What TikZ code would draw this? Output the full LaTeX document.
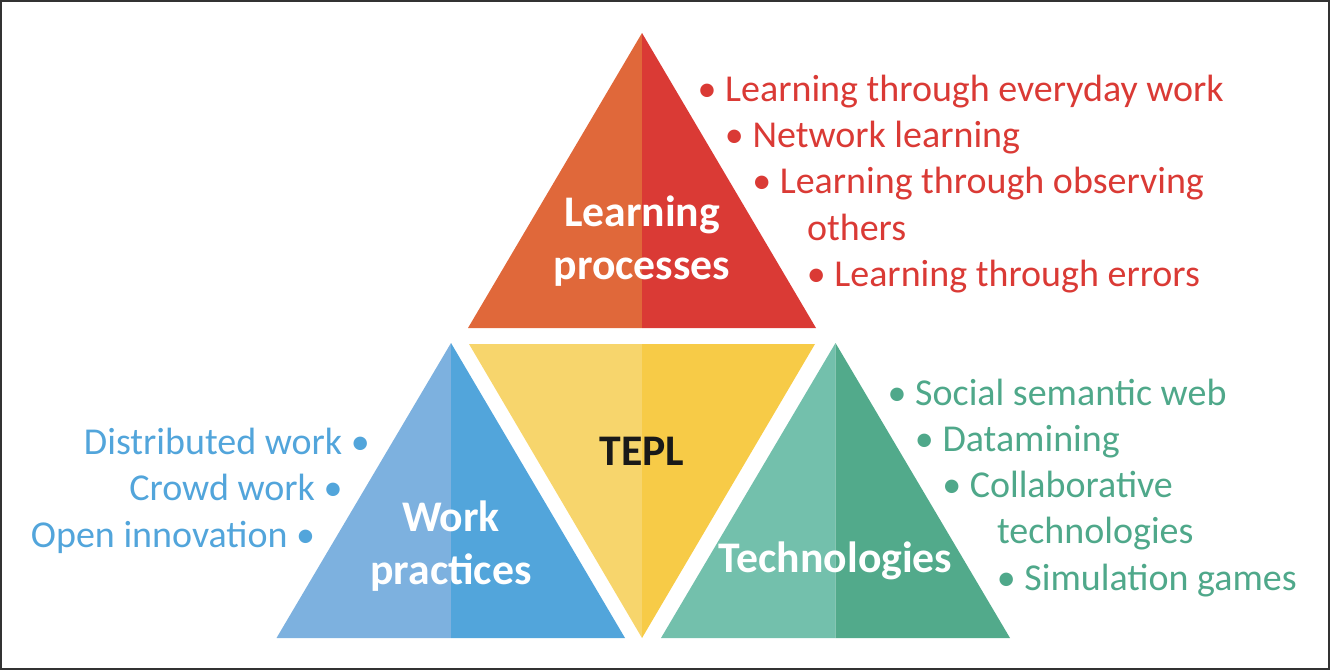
\documentclass[tikz,border=0pt]{standalone}
\usepackage{fontspec}
\setmainfont{Carlito}
\definecolor{redL}{HTML}{E0683A}
\definecolor{redR}{HTML}{DA3A35}
\definecolor{yelL}{HTML}{F7D56C}
\definecolor{yelR}{HTML}{F7CB47}
\definecolor{bluL}{HTML}{7DB1DF}
\definecolor{bluR}{HTML}{52A5DB}
\definecolor{grnL}{HTML}{73C0AC}
\definecolor{grnR}{HTML}{52AA8B}
\definecolor{redT}{HTML}{DA3A35}
\definecolor{bluT}{HTML}{52A5DB}
\definecolor{grnT}{HTML}{4FA88A}
\definecolor{frameC}{HTML}{333333}
\newcommand\lbul{\llap{•\ }}
\newcommand\rbul{\rlap{\ •}}
\tikzset{
  frameline/.style={draw=frameC, line width=1.3pt},
  title/.style={font=\bfseries\fontsize{43.7}{52}\selectfont, text=white, inner sep=0pt, anchor=base},
  center/.style={font=\bfseries\fontsize{43.7}{52}\selectfont, text=black!90, inner sep=0pt, anchor=base},
  itemL/.style={font=\fontsize{38}{45}\selectfont, inner sep=0pt, anchor=base west},
  itemR/.style={font=\fontsize{38}{45}\selectfont, inner sep=0pt, anchor=base east},
}
\begin{document}
\begin{tikzpicture}[x=1pt,y=-1pt]
\useasboundingbox (0,0) rectangle (1330,670);
\draw[frameline] (1,1) rectangle (1329,669);
% top red triangle
\fill[redL] (642,33) -- (468,328) -- (642,328) -- cycle;
\fill[redR] (642,33) -- (816,328) -- (642,328) -- cycle;
% middle yellow inverted triangle
\fill[yelL] (469,344) -- (642,344) -- (642,638) -- cycle;
\fill[yelR] (642,344) -- (815,344) -- (642,638) -- cycle;
% left blue triangle
\fill[bluL] (451,343) -- (276.5,638) -- (451,638) -- cycle;
\fill[bluR] (451,343) -- (625,638) -- (451,638) -- cycle;
% right green triangle
\fill[grnL] (835.5,343) -- (661,638) -- (835.5,638) -- cycle;
\fill[grnR] (835.5,343) -- (1010,638) -- (835.5,638) -- cycle;
% triangle labels
\node[title] (lp1) at (642,226.5) {Learning};
\node[title] (lp2) at (642,279.5) {processes};
\node[center] (tepl) at (642,465) {TEPL};
\node[title] (wp1) at (451,531) {Work};
\node[title] (wp2) at (451,584) {practices};
\node[title] (tech) at (835.5,572) {Technologies};
% red list
\begin{scope}[every node/.style={text=redT}]
\node[itemL] (r1) at (725,101.7) {\lbul Learning through everyday work};
\node[itemL] (r2) at (752.3,147.8) {\lbul Network learning};
\node[itemL] (r3) at (779.6,193.9) {\lbul Learning through observing};
\node[itemL] (r4) at (806.9,240) {others};
\node[itemL] (r5) at (834.2,286.1) {\lbul Learning through errors};
\end{scope}
% blue list
\begin{scope}[every node/.style={text=bluT}]
\node[itemR] (b1) at (342.5,454) {Distributed work\rbul};
\node[itemR] (b2) at (315.2,500.7) {Crowd work\rbul};
\node[itemR] (b3) at (287.9,547.4) {Open innovation\rbul};
\end{scope}
% green list
\begin{scope}[every node/.style={text=grnT}]
\node[itemL] (g1) at (915,405.3) {\lbul Social semantic web};
\node[itemL] (g2) at (942.3,451.5) {\lbul Datamining};
\node[itemL] (g3) at (969.6,497.7) {\lbul Collaborative};
\node[itemL] (g4) at (996.9,543.9) {technologies};
\node[itemL] (g5) at (1024.2,590.1) {\lbul Simulation games};
\end{scope}
\end{tikzpicture}
\end{document}
